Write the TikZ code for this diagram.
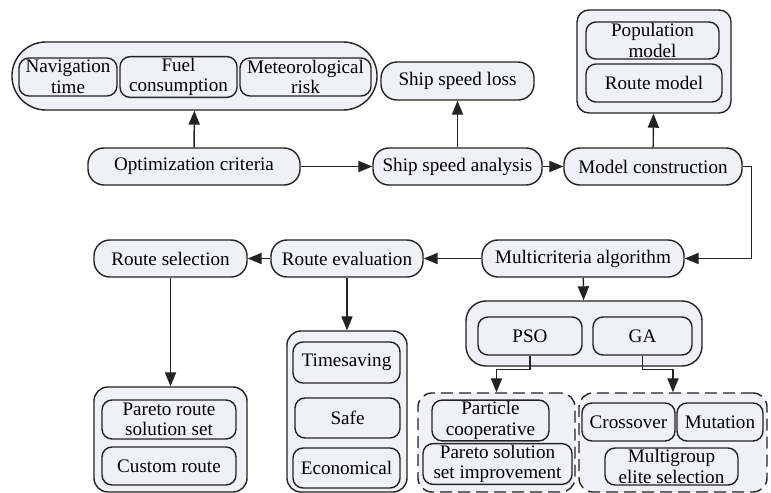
\documentclass[tikz,border=0pt]{standalone}
\usepackage{fontspec}
\setmainfont{Liberation Serif}
\usepackage{xcolor}
\usepackage{tikz}
\usetikzlibrary{arrows.meta, positioning, calc}
\definecolor{boxfill}{RGB}{240,241,244}
\definecolor{boxline}{RGB}{35,35,35}

\begin{document}
\begin{tikzpicture}[
  x=0.025cm,y=-0.025cm,
  stage/.style={
    rectangle, rounded corners=0.4cm, line width=1pt,
    draw=boxline, fill=boxfill,
    minimum height=0.925cm, inner sep=1pt, align=center,
    font=\fontsize{13.6}{14.6}\selectfont
  },
  item/.style={
    rectangle, rounded corners=0.25cm, line width=1pt,
    draw=boxline, fill=boxfill,
    minimum height=0.95cm, inner sep=1pt, align=center,
    font=\fontsize{13.6}{14.6}\selectfont
  },
  group/.style={
    rectangle, rounded corners=0.35cm, line width=1pt,
    draw=boxline, fill=boxfill, inner sep=0pt
  },
  dashgroup/.style={group, dash pattern=on 0.3cm off 0.15cm},
  arrow/.style={-{Triangle[length=0.35cm,width=0.28cm]}, line width=1pt, draw=boxline}
]
\useasboundingbox (0,0) rectangle (771,493);

% ---- containers ----
\node[group, rounded corners=0.85cm, minimum width=9.125cm, minimum height=1.7cm] (critgroup)  at (194.5,76)  {};
\node[group, rounded corners=0.3cm, minimum width=3.85cm, minimum height=2.575cm] (modelgroup) at (654,61.5) {};
\node[group, rounded corners=0.5cm, minimum width=5.9cm, minimum height=1.625cm]  (algogroup)  at (584,333.5) {};
\node[group, minimum width=3.825cm, minimum height=2.625cm]                       (selgroup)   at (170.5,439.5) {};
\node[group, minimum width=3.0cm, minimum height=4.025cm]                         (evalgroup)  at (347,411.5) {};
\node[dashgroup, minimum width=3.925cm, minimum height=2.475cm]                   (psogroup)   at (496.5,442.5) {};
\node[dashgroup, minimum width=4.7cm, minimum height=2.475cm]                     (gagroup)    at (673,442.5) {};

% ---- criteria ----
\node[item, minimum width=2.45cm]  (navtime) at (68,77)    {Navigation\\time};
\node[item, minimum width=2.925cm] (fuel)    at (178.5,77) {Fuel\\consumption};
\node[item, minimum width=3.275cm] (meteo)   at (305.5,77) {Meteorological\\risk};

% ---- main stages ----
\node[stage, minimum width=5.3cm]   (optcrit)   at (194,166.5)   {Optimization criteria};
\node[stage, minimum width=3.825cm, minimum height=0.95cm] (speedloss) at (457.5,81) {Ship speed loss};
\node[stage, minimum width=4.225cm] (speedana)  at (457.5,166.5) {Ship speed analysis};
\node[stage, minimum width=4.45cm]  (modelcon)  at (653,166.5)   {Model construction};
\node[stage, minimum width=5.05cm]  (multialg)  at (583,258.5)   {Multicriteria algorithm};
\node[stage, minimum width=3.8cm]   (routeeval) at (347,258.5)   {Route evaluation};
\node[stage, minimum width=3.825cm] (routesel)  at (170.5,258.5) {Route selection};

% ---- models ----
\node[item, minimum width=3.325cm, minimum height=0.925cm] (popmodel)   at (652.5,40.5) {Population\\model};
\node[item, minimum width=3.4cm]                           (routemodel) at (654,83)     {Route model};

% ---- algorithms ----
\node[item, minimum width=2.6cm]   (pso) at (530,336)   {PSO};
\node[item, minimum width=2.475cm] (ga)  at (642.5,336) {GA};

\node[item, minimum width=2.925cm, minimum height=0.925cm] (particle)  at (490.5,420.5) {Particle\\cooperative};
\node[item, minimum width=3.725cm]                         (paretoimp) at (497.5,464)   {Pareto solution\\set improvement};
\node[item, minimum width=2.325cm] (crossover)  at (628.5,422) {Crossover};
\node[item, minimum width=2.15cm]  (mutation)   at (720,422)   {Mutation};
\node[item, minimum width=3.325cm, minimum height=0.925cm] (multigroup) at (671.5,466.5) {Multigroup\\elite selection};

% ---- results ----
\node[item, minimum width=3.35cm, minimum height=0.975cm] (paretoroute) at (169,419.5) {Pareto route\\solution set};
\node[item, minimum width=3.35cm] (customroute) at (169,466) {Custom route};

\node[item, minimum width=2.675cm, minimum height=1.025cm] (timesaving) at (346.5,362.5) {Timesaving};
\node[item, minimum width=2.625cm, minimum height=1.0cm]   (safe)       at (347.5,418)   {Safe};
\node[item, minimum width=2.675cm, minimum height=1.0cm]   (economical) at (346.5,468)   {Economical};

% ---- connectors ----
\draw[arrow] (optcrit) -- (critgroup);
\draw[arrow] (optcrit) -- (speedana);
\draw[arrow] (speedana) -- (speedloss);
\draw[arrow] (speedana) -- (modelcon);
\draw[arrow] (modelcon) -- (modelgroup);
\draw[arrow] (modelcon.east) -- ++(9,0) |- (multialg.east);
\draw[arrow] (multialg) -- (routeeval);
\draw[arrow] (routeeval) -- (routesel);
\draw[arrow] (routesel) -- (selgroup);
\draw[arrow] (routeeval) -- (evalgroup);
\draw[arrow] (multialg) -- (algogroup);

\draw[arrow] (pso.south) -- ++(0,14) -| (psogroup.north);
\draw[arrow] (ga.south) -- ++(0,14) -| (gagroup.north);

\end{tikzpicture}
\end{document}
